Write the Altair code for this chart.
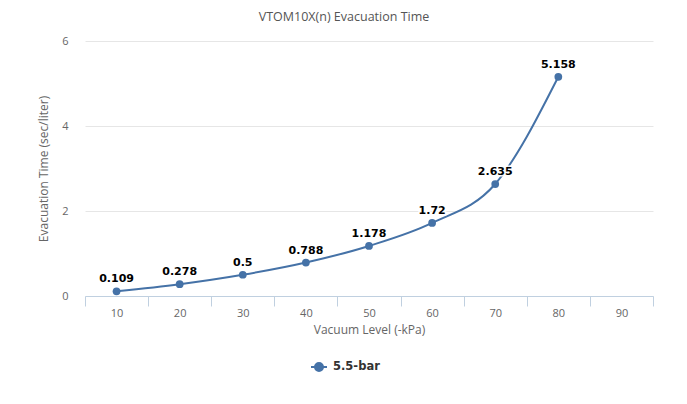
import altair as alt
import pandas as pd

categories = [10, 20, 30, 40, 50, 60, 70, 80, 90]
vacuum = [10, 20, 30, 40, 50, 60, 70, 80]
evac_time = [0.109, 0.278, 0.5, 0.788, 1.178, 1.72, 2.635, 5.158]
series_name = "5.5-bar"
y_ticks = [0, 2, 4, 6]

df = pd.DataFrame({"vacuum": vacuum, "time": evac_time, "series": series_name})

BLUE = "#4572A7"
AXIS_BLUE = "#C0D0E0"
FONT = "Open Sans"

x_enc = alt.X(
    "vacuum:O",
    scale=alt.Scale(domain=categories, type="band", paddingInner=0, paddingOuter=0),
    axis=alt.Axis(
        title="Vacuum Level (-kPa)",
        labelAngle=0,
        tickBand="extent",
        tickSize=10,
        tickColor=AXIS_BLUE,
        domainColor=AXIS_BLUE,
        labelColor="#666666",
        labelFont=FONT,
        labelFontSize=11,
        labelPadding=1,
        titleColor="#666666",
        titleFont=FONT,
        titleFontSize=12,
        titleFontWeight="normal",
        titlePadding=6,
        grid=False,
    ),
)
y_enc = alt.Y(
    "time:Q",
    scale=alt.Scale(domain=[0, 6], nice=False),
    axis=alt.Axis(
        title="Evacuation Time (sec/liter)",
        values=y_ticks,
        domain=False,
        ticks=False,
        grid=True,
        gridColor="#E6E6E6",
        labelColor="#666666",
        labelFont=FONT,
        labelFontSize=11,
        labelPadding=17,
        titleColor="#666666",
        titleFont=FONT,
        titleFontSize=12,
        titleFontWeight="normal",
        titlePadding=11,
    ),
)

color_enc = alt.Color(
    "series:N",
    scale=alt.Scale(range=[BLUE]),
    legend=alt.Legend(
        title=None,
        orient="none",
        legendX=225,
        legendY=317,
        symbolType="M-1,0L1,0M-0.5,0A0.5,0.5,0,1,1,0.5,0A0.5,0.5,0,1,1,-0.5,0Z",
        symbolSize=256,
        symbolStrokeWidth=2,
        symbolFillColor=BLUE,
        symbolStrokeColor=BLUE,
        labelFont="DejaVu Sans",
        labelFontWeight="bold",
        labelFontSize=11.5,
        labelColor="#333333",
        labelOffset=5,
    ),
)

base = alt.Chart(df).encode(x=x_enc, y=y_enc)

line = base.mark_line(interpolate="monotone", strokeWidth=2).encode(color=color_enc)
points = base.mark_circle(size=60, opacity=1).encode(color=color_enc)
halo = base.mark_text(
    dy=-12, font="DejaVu Sans", fontWeight="bold", fontSize=11,
    stroke="white", strokeWidth=3, strokeOpacity=0.9, fill="white",
).encode(text=alt.Text("time:Q"))
labels = base.mark_text(
    dy=-12, font="DejaVu Sans", fontWeight="bold", fontSize=11, color="#000000",
).encode(text=alt.Text("time:Q"))

chart = (
    alt.layer(line, points, halo, labels)
    .properties(
        width=568,
        height=255,
        title=alt.TitleParams(
            "VTOM10X(n) Evacuation Time",
            font=FONT,
            fontSize=12.5,
            fontWeight="normal",
            color="#555555",
            anchor="middle",
            dx=-25,
            offset=12,
        ),
        autosize=alt.AutoSizeParams(type="none"),
        padding={"left": 77, "top": 33, "right": 26, "bottom": 100},
    )
    .configure_view(stroke=None)
)

chart.save("out.html", embed_options={"renderer": "svg", "actions": False})
